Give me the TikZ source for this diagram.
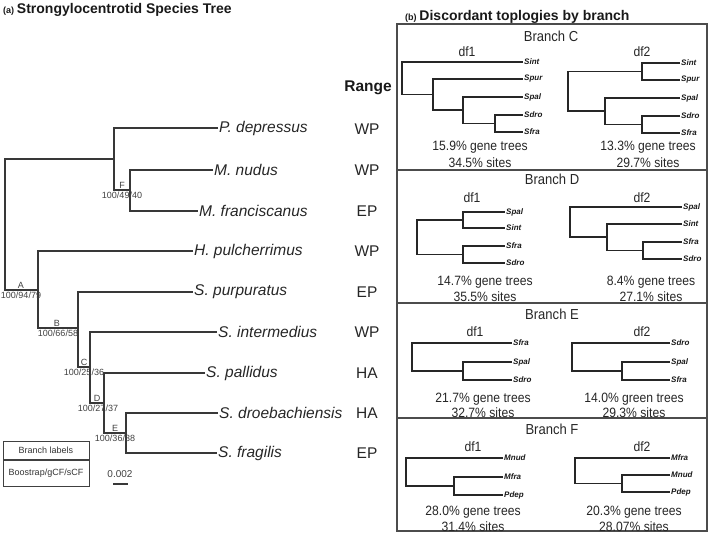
\documentclass[tikz,border=0pt]{standalone}
\usepackage{fontspec}
\setmainfont{Liberation Sans}
\newfontfamily\condfont[FakeStretch=0.9]{Liberation Sans}
\newcommand\fsz[1]{\fontsize{#1}{#1}\selectfont}
\begin{document}
\begin{tikzpicture}[x=1pt,y=-1pt,
  tree/.style={draw=black!78, line width=1.2pt},
  ctree/.style={draw=black!85, line width=1.6pt},
  frame/.style={draw=black!70, line width=1.3pt},
  sp/.style={anchor=west, inner sep=1pt, text=black!85, font=\fsz{15.5}\itshape},
  rng/.style={inner sep=0pt, text=black!85, font=\fsz{15.5}},
  blab/.style={inner sep=0.5pt, text=black!75, font=\fsz{9}},
  tip/.style={anchor=west, inner sep=1pt, text=black!90, font=\fsz{8}\bfseries\itshape},
  ptxt/.style={inner sep=0pt, text=black!85, font=\condfont\fsz{13.5}},
  dtxt/.style={inner sep=0pt, text=black!85, font=\condfont\fsz{13.5}},
  btxt/.style={inner sep=0pt, text=black!85, font=\condfont\fsz{14.5}},
  ttl/.style={anchor=base west, inner sep=0pt, text=black!90}
]
\useasboundingbox (0,0) rectangle (709,536);

% ---------- titles ----------
\node[ttl] (titleA) at (3,13) {{\fsz{9}\bfseries (a)} {\fsz{14}\bfseries Strongylocentrotid Species Tree}};
\node[ttl] (titleB) at (405,20) {{\fsz{9}\bfseries (b)} {\fsz{14}\bfseries Discordant toplogies by branch}};

% ---------- species tree ----------
\node[sp] (tPdep) at (218,128) {P. depressus};
\node[sp] (tMnud) at (213,170) {M. nudus};
\node[sp] (tMfra) at (198,211) {M. franciscanus};
\node[sp] (tHpul) at (193,251) {H. pulcherrimus};
\node[sp] (tSpur) at (193,292) {S. purpuratus};
\node[sp] (tSint) at (217,332) {S. intermedius};
\node[sp] (tSpal) at (205,373) {S. pallidus};
\node[sp] (tSdro) at (218,413) {S. droebachiensis};
\node[sp] (tSfra) at (217,453) {S. fragilis};

\coordinate (nF) at (130,190);
\coordinate (nPF) at (114,159);
\coordinate (nE) at (126,433);
\coordinate (nD) at (104,403);
\coordinate (nC) at (90,367);
\coordinate (nB) at (78,328);
\coordinate (nA) at (38,290);
\coordinate (nRoot) at (5,224.5);

\draw[tree] (tMnud.west) -| (nF) |- (tMfra.west);
\draw[tree] (tPdep.west) -| (nPF) |- (nF);
\draw[tree] (tSdro.west) -| (nE) |- (tSfra.west);
\draw[tree] (tSpal.west) -| (nD) |- (nE);
\draw[tree] (tSint.west) -| (nC) |- (nD);
\draw[tree] (tSpur.west) -| (nB) |- (nC);
\draw[tree] (tHpul.west) -| (nA) |- (nB);
\draw[tree] (nPF) -| (nRoot) |- (nA);

% branch labels
\node[blab, anchor=south] (lA) at (21,289.5) {A};
\node[blab, anchor=north] (vA) at (21,291) {100/94/79};
\node[blab, anchor=south] (lB) at (57,327.5) {B};
\node[blab, anchor=north] (vB) at (58,329) {100/66/58};
\node[blab, anchor=south] (lC) at (84,366.5) {C};
\node[blab, anchor=north] (vC) at (84,368) {100/25/36};
\node[blab, anchor=south] (lD) at (97,402.5) {D};
\node[blab, anchor=north] (vD) at (98,404) {100/27/37};
\node[blab, anchor=south] (lE) at (115,432.5) {E};
\node[blab, anchor=north] (vE) at (115,434) {100/36/38};
\node[blab, anchor=south] (lF) at (122,189.5) {F};
\node[blab, anchor=north] (vF) at (122,191) {100/49/40};

% range
\node[inner sep=0pt, text=black!90, font=\fsz{15.5}\bfseries] (range) at (368,88) {Range};
\node[rng] (r1) at (367,129) {WP};
\node[rng] (r2) at (367,170) {WP};
\node[rng] (r3) at (367,211) {EP};
\node[rng] (r4) at (367,251) {WP};
\node[rng] (r5) at (367,292) {EP};
\node[rng] (r6) at (367,332) {WP};
\node[rng] (r7) at (367,373) {HA};
\node[rng] (r8) at (367,413) {HA};
\node[rng] (r9) at (367,453) {EP};

% legend
\node[draw=black!75, line width=1pt, minimum width=86pt, minimum height=18pt, inner sep=0pt, font=\fsz{9}, text=black!80] (legTop) at (46,450) {Branch labels};
\node[draw=black!75, line width=1pt, minimum width=86pt, minimum height=26pt, inner sep=0pt, font=\fsz{9}, text=black!80, anchor=north] (legBot) at (legTop.south) {Boostrap/gCF/sCF};
\node[blab, font=\fsz{10}] (scaleTxt) at (120,474) {0.002};
\coordinate (sb1) at (113,484);
\coordinate (sb2) at (128,484);
\draw[tree] (sb1) -- (sb2);

% ---------- right panel frame ----------
\coordinate (fTL) at (397,24);
\coordinate (fBR) at (707,531);
\draw[frame] (fTL) rectangle (fBR);
\coordinate (dv1a) at (397,170); \coordinate (dv1b) at (707,170);
\coordinate (dv2a) at (397,303); \coordinate (dv2b) at (707,303);
\coordinate (dv3a) at (397,418); \coordinate (dv3b) at (707,418);
\draw[frame] (dv1a) -- (dv1b);
\draw[frame] (dv2a) -- (dv2b);
\draw[frame] (dv3a) -- (dv3b);

% ---------- Branch C ----------
\node[btxt] (hC) at (551,36) {Branch C};
\node[dtxt] (hC1) at (467,52) {df1};
\node[dtxt] (hC2) at (642,52) {df2};
\node[tip] (c1Sint) at (523,62) {Sint};
\node[tip] (c1Spur) at (523,79) {Spur};
\node[tip] (c1Spal) at (523,97) {Spal};
\node[tip] (c1Sdro) at (523,115) {Sdro};
\node[tip] (c1Sfra) at (523,132) {Sfra};
\coordinate (c1n4) at (495,123.5);
\coordinate (c1n3) at (463,110);
\coordinate (c1n2) at (433,94.5);
\coordinate (c1n1) at (402,78);
\draw[ctree] (c1Sdro.west) -| (c1n4) |- (c1Sfra.west);
\draw[ctree] (c1Spal.west) -| (c1n3) |- (c1n4);
\draw[ctree] (c1Spur.west) -| (c1n2) |- (c1n3);
\draw[ctree] (c1Sint.west) -| (c1n1) |- (c1n2);
\node[ptxt] (pC1a) at (480,147) {15.9\% gene trees};
\node[ptxt] (pC1b) at (480,163) {34.5\% sites};

\node[tip] (c2Sint) at (680,63) {Sint};
\node[tip] (c2Spur) at (680,80) {Spur};
\node[tip] (c2Spal) at (680,98) {Spal};
\node[tip] (c2Sdro) at (680,116) {Sdro};
\node[tip] (c2Sfra) at (680,133) {Sfra};
\coordinate (c2n2) at (642,71.5);
\coordinate (c2n4) at (642,124.5);
\coordinate (c2n3) at (605,111);
\coordinate (c2n1) at (568,91);
\draw[ctree] (c2Sint.west) -| (c2n2) |- (c2Spur.west);
\draw[ctree] (c2Sdro.west) -| (c2n4) |- (c2Sfra.west);
\draw[ctree] (c2Spal.west) -| (c2n3) |- (c2n4);
\draw[ctree] (c2n2) -| (c2n1) |- (c2n3);
\node[ptxt] (pC2a) at (648,147) {13.3\% gene trees};
\node[ptxt] (pC2b) at (648,163) {29.7\% sites};

% ---------- Branch D ----------
\node[btxt] (hD) at (552,179) {Branch D};
\node[dtxt] (hD1) at (472,198) {df1};
\node[dtxt] (hD2) at (642,198) {df2};
\node[tip] (d1Spal) at (505,212) {Spal};
\node[tip] (d1Sint) at (505,228) {Sint};
\node[tip] (d1Sfra) at (505,246) {Sfra};
\node[tip] (d1Sdro) at (505,263) {Sdro};
\coordinate (d1n2) at (463,220);
\coordinate (d1n3) at (463,254.5);
\coordinate (d1n1) at (417,237);
\draw[ctree] (d1Spal.west) -| (d1n2) |- (d1Sint.west);
\draw[ctree] (d1Sfra.west) -| (d1n3) |- (d1Sdro.west);
\draw[ctree] (d1n2) -| (d1n1) |- (d1n3);
\node[ptxt] (pD1a) at (485,282) {14.7\% gene trees};
\node[ptxt] (pD1b) at (485,297) {35.5\% sites};

\node[tip] (d2Spal) at (682,207) {Spal};
\node[tip] (d2Sint) at (682,224) {Sint};
\node[tip] (d2Sfra) at (682,242) {Sfra};
\node[tip] (d2Sdro) at (682,259) {Sdro};
\coordinate (d2n3) at (643,250.5);
\coordinate (d2n2) at (607,237);
\coordinate (d2n1) at (570,222);
\draw[ctree] (d2Sfra.west) -| (d2n3) |- (d2Sdro.west);
\draw[ctree] (d2Sint.west) -| (d2n2) |- (d2n3);
\draw[ctree] (d2Spal.west) -| (d2n1) |- (d2n2);
\node[ptxt] (pD2a) at (651,282) {8.4\% gene trees};
\node[ptxt] (pD2b) at (651,297) {27.1\% sites};

% ---------- Branch E ----------
\node[btxt] (hE) at (552,314) {Branch E};
\node[dtxt] (hE1) at (475,332) {df1};
\node[dtxt] (hE2) at (642,332) {df2};
\node[tip] (e1Sfra) at (512,343) {Sfra};
\node[tip] (e1Spal) at (512,362) {Spal};
\node[tip] (e1Sdro) at (512,380) {Sdro};
\coordinate (e1n2) at (463,371);
\coordinate (e1n1) at (412,357);
\draw[ctree] (e1Spal.west) -| (e1n2) |- (e1Sdro.west);
\draw[ctree] (e1Sfra.west) -| (e1n1) |- (e1n2);
\node[ptxt] (pE1a) at (483,399) {21.7\% gene trees};
\node[ptxt] (pE1b) at (483,413) {32.7\% sites};

\node[tip] (e2Sdro) at (670,343) {Sdro};
\node[tip] (e2Spal) at (670,362) {Spal};
\node[tip] (e2Sfra) at (670,380) {Sfra};
\coordinate (e2n2) at (622,371);
\coordinate (e2n1) at (572,357);
\draw[ctree] (e2Spal.west) -| (e2n2) |- (e2Sfra.west);
\draw[ctree] (e2Sdro.west) -| (e2n1) |- (e2n2);
\node[ptxt] (pE2a) at (634,399) {14.0\% green trees};
\node[ptxt] (pE2b) at (634,413) {29.3\% sites};

% ---------- Branch F ----------
\node[btxt] (hF) at (552,429) {Branch F};
\node[dtxt] (hF1) at (473,447) {df1};
\node[dtxt] (hF2) at (642,447) {df2};
\node[tip] (f1Mnud) at (503,458) {Mnud};
\node[tip] (f1Mfra) at (503,477) {Mfra};
\node[tip] (f1Pdep) at (503,495) {Pdep};
\coordinate (f1n2) at (454,486);
\coordinate (f1n1) at (406,472);
\draw[ctree] (f1Mfra.west) -| (f1n2) |- (f1Pdep.west);
\draw[ctree] (f1Mnud.west) -| (f1n1) |- (f1n2);
\node[ptxt] (pF1a) at (473,512) {28.0\% gene trees};
\node[ptxt] (pF1b) at (473,527) {31.4\% sites};

\node[tip] (f2Mfra) at (670,458) {Mfra};
\node[tip] (f2Mnud) at (670,475) {Mnud};
\node[tip] (f2Pdep) at (670,492) {Pdep};
\coordinate (f2n2) at (622,483.5);
\coordinate (f2n1) at (575,470.75);
\draw[ctree] (f2Mnud.west) -| (f2n2) |- (f2Pdep.west);
\draw[ctree] (f2Mfra.west) -| (f2n1) |- (f2n2);
\node[ptxt] (pF2a) at (634,512) {20.3\% gene trees};
\node[ptxt] (pF2b) at (634,527) {28.07\% sites};
\end{tikzpicture}
\end{document}
